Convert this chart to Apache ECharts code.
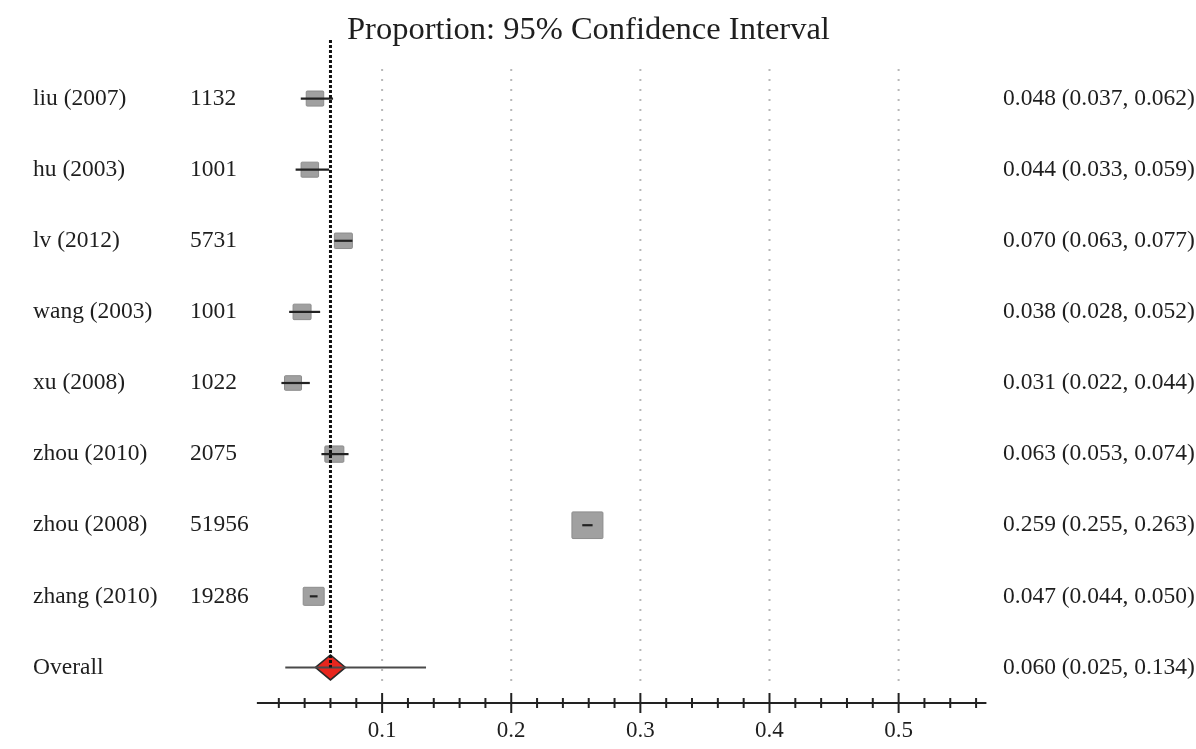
<!DOCTYPE html>
<html><head><meta charset="utf-8">
<script src="https://cdn.jsdelivr.net/npm/echarts@6/dist/echarts.min.js"></script>
<style>html,body{margin:0;padding:0;background:#fff}#c{width:1196px;height:749px}</style>
</head><body><div id="c"></div>
<script>
// ---- data ----
const studies = ['liu (2007)','hu (2003)','lv (2012)','wang (2003)','xu (2008)','zhou (2010)','zhou (2008)','zhang (2010)','Overall'];
const sampleSizes = ['1132','1001','5731','1001','1022','2075','51956','19286',''];
const estimates = [0.048,0.044,0.070,0.038,0.031,0.063,0.259,0.047,0.060];
const lowerCI   = [0.037,0.033,0.063,0.028,0.022,0.053,0.255,0.044,0.025];
const upperCI   = [0.062,0.059,0.077,0.052,0.044,0.074,0.263,0.050,0.134];
const boxWeights = [1.75,1.75,1.8,1.8,1.7,1.9,3.1,2.1]; // relative study weights (box size)
const majorTicks = [0.1,0.2,0.3,0.4,0.5];
const xTickLabels = ['0.1','0.2','0.3','0.4','0.5'];
const minorTicks = [0.02,0.04,0.06,0.08,0.12,0.14,0.16,0.18,0.22,0.24,0.26,0.28,0.32,0.34,0.36,0.38,0.42,0.44,0.46,0.48,0.52,0.54,0.56];
const axisExtent = [0.003,0.568];
const titleText = 'Proportion: 95% Confidence Interval';

const FONT = '"Liberation Serif","DejaVu Serif",serif';
const TXT = '#1e1e1e';
const overallIdx = studies.length - 1;
const summaryLabels = estimates.map((e,i)=> e.toFixed(3)+' ('+lowerCI[i].toFixed(3)+', '+upperCI[i].toFixed(3)+')');

const chart = echarts.init(document.getElementById('c'), null, {renderer:'canvas'});

const option = {
  animation:false,
  backgroundColor:'#fff',
  title:{text:titleText,left:342,top:9,textStyle:{fontFamily:FONT,fontSize:32.5,fontWeight:'normal',color:TXT}},
  grid:{left:253,right:207,top:63,bottom:46,outerBoundsMode:'none'},
  xAxis:{type:'value',min:0,max:0.57,interval:0.1,
    axisLine:{show:false},axisTick:{show:false},splitLine:{show:false},
    axisLabel:{margin:16,fontFamily:FONT,fontSize:23,color:TXT,
      formatter:v=>{const k=majorTicks.findIndex(t=>Math.abs(t-v)<1e-9);return k>=0?xTickLabels[k]:'';}}},
  yAxis:[
    {type:'category',data:studies,inverse:true,axisLine:{show:false},axisTick:{show:false},splitLine:{show:false},
      axisLabel:{align:'left',margin:220,formatter:(v,i)=>'{a|'+v+'}{b|'+sampleSizes[i]+'}',
        rich:{a:{width:157,fontFamily:FONT,fontSize:23.5,color:TXT},b:{fontFamily:FONT,fontSize:23.5,color:TXT}}}},
    {type:'category',data:studies,inverse:true,position:'right',axisLine:{show:false},axisTick:{show:false},splitLine:{show:false},
      axisLabel:{align:'left',margin:14,fontFamily:FONT,fontSize:23.5,color:TXT,formatter:(v,i)=>summaryLabels[i]}}
  ],
  series:[
    { // dotted vertical grid lines
      type:'custom',name:'grid',silent:true,z:1,
      data:majorTicks.map(v=>[v,0]),
      renderItem:(params,api)=>{
        const cs=params.coordSys;const x=api.coord([api.value(0),0])[0];
        return {type:'line',shape:{x1:x,y1:cs.y+6,x2:x,y2:cs.y+cs.height-20},
          style:{stroke:'#b8b8b8',lineWidth:2,lineDash:[2,8]}};
      }
    },
    { // study boxes & CI whiskers
      type:'custom',name:'studies',silent:true,z:3,
      data:estimates.slice(0,overallIdx).map((e,i)=>[e,i,lowerCI[i],upperCI[i],boxWeights[i]]),
      renderItem:(params,api)=>{
        const c=api.coord([api.value(0),api.value(1)]);
        const l=api.coord([api.value(2),api.value(1)]);
        const h=api.coord([api.value(3),api.value(1)]);
        const w=api.value(4)*10, ht=w*0.86;
        return {type:'group',children:[
          {type:'rect',shape:{x:c[0]-w/2,y:c[1]-ht/2,width:w,height:ht,r:1},style:{fill:'#a0a0a0',stroke:'#8c8c8c',lineWidth:1}},
          {type:'line',shape:{x1:l[0],y1:c[1],x2:h[0],y2:c[1]},style:{stroke:'#222',lineWidth:2.2}}
        ]};
      }
    },
    { // overall diamond
      type:'custom',name:'overall',silent:true,z:4,
      data:[[estimates[overallIdx],overallIdx,lowerCI[overallIdx],upperCI[overallIdx]]],
      renderItem:(params,api)=>{
        const c=api.coord([api.value(0),api.value(1)]);
        const l=api.coord([api.value(2),api.value(1)]);
        const h=api.coord([api.value(3),api.value(1)]);
        const hw=15, hh=12.5;
        return {type:'group',children:[
          {type:'polygon',shape:{points:[[c[0]-hw,c[1]],[c[0],c[1]-hh],[c[0]+hw,c[1]],[c[0],c[1]+hh]]},style:{fill:'#e8261e',stroke:'#2a2a2a',lineWidth:1.5}},
          {type:'line',shape:{x1:l[0],y1:c[1],x2:h[0],y2:c[1]},style:{stroke:'#4a4a4a',lineWidth:2}}
        ]};
      }
    },
    { // dashed reference line at overall estimate
      type:'custom',name:'ref',silent:true,z:5,clip:false,
      data:[[estimates[overallIdx],overallIdx]],
      renderItem:(params,api)=>{
        const cs=params.coordSys;const c=api.coord([api.value(0),api.value(1)]);
        return {type:'line',shape:{x1:c[0],y1:cs.y-23,x2:c[0],y2:c[1]},style:{stroke:'#111',lineWidth:3,lineDash:[3,2]}};
      }
    },
    { // axis line
      type:'custom',name:'axisline',silent:true,z:2,clip:false,
      data:[axisExtent],
      renderItem:(params,api)=>{
        const cs=params.coordSys;const y=cs.y+cs.height;
        const a=api.coord([api.value(0),0])[0], b=api.coord([api.value(1),0])[0];
        return {type:'line',shape:{x1:a,y1:y,x2:b,y2:y},style:{stroke:'#222',lineWidth:2}};
      }
    },
    { // ticks
      type:'custom',name:'ticks',silent:true,z:2,clip:false,
      data:minorTicks.map(v=>[v,5]).concat(majorTicks.map(v=>[v,10])),
      renderItem:(params,api)=>{
        const cs=params.coordSys;const y=cs.y+cs.height;
        const x=api.coord([api.value(0),0])[0];const len=api.value(1);
        return {type:'line',shape:{x1:x,y1:y-len,x2:x,y2:y+len},style:{stroke:'#222',lineWidth:2}};
      }
    }
  ]
};
chart.setOption(option);
</script>
</body></html>
